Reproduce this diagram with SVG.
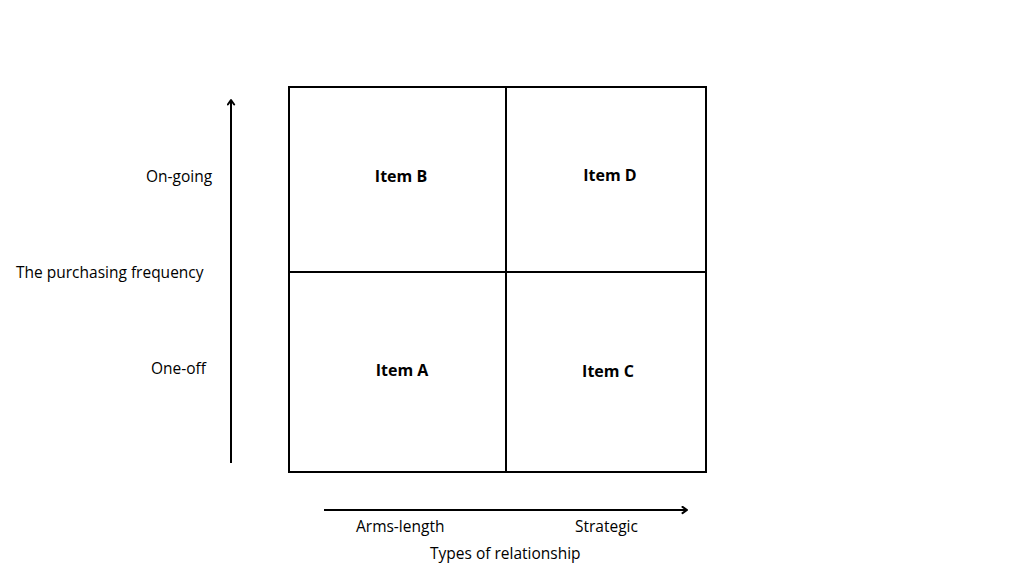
<svg xmlns="http://www.w3.org/2000/svg" width="1024" height="576" viewBox="0 0 1024 576">
<defs>
<marker id="arr" viewBox="0 0 10 10" refX="8" refY="5" markerWidth="9" markerHeight="9" orient="auto" markerUnits="userSpaceOnUse">
<path d="M3,1.5 L8,5 L3,8.5" fill="none" stroke="#000" stroke-width="2.2" stroke-linecap="round" stroke-linejoin="round"/>
</marker>
<style>
.ln{stroke:#000;stroke-width:2;fill:none}
.lbl{font-family:"Open Sans","Liberation Sans",sans-serif;font-size:15.5px;fill:#000}
.item{font-family:"Open Sans","Liberation Sans",sans-serif;font-size:16px;font-weight:bold;fill:#000;text-anchor:middle}
</style>
</defs>
<rect width="1024" height="576" fill="#fff"/>
<g id="grid">
<rect class="ln" x="289" y="87" width="417" height="385"/>
<line class="ln" x1="506" y1="87" x2="506" y2="472"/>
<line class="ln" x1="289" y1="272" x2="706" y2="272"/>
</g>
<g id="itemB"><text class="item" x="401" y="182">Item B</text></g>
<g id="itemD"><text class="item" x="610" y="181">Item D</text></g>
<g id="itemA"><text class="item" x="402" y="376">Item A</text></g>
<g id="itemC"><text class="item" x="608" y="377">Item C</text></g>
<g id="connectors">
<line class="ln" x1="231" y1="463" x2="231" y2="100" marker-end="url(#arr)"/>
<line class="ln" x1="324" y1="510" x2="687" y2="510" marker-end="url(#arr)"/>
</g>
<g id="labels">
<text class="lbl" x="146" y="182">On-going</text>
<text class="lbl" x="16" y="278">The purchasing frequency</text>
<text class="lbl" x="151" y="374">One-off</text>
<text class="lbl" x="356" y="532">Arms-length</text>
<text class="lbl" x="575" y="532">Strategic</text>
<text class="lbl" x="430" y="559">Types of relationship</text>
</g>
</svg>
